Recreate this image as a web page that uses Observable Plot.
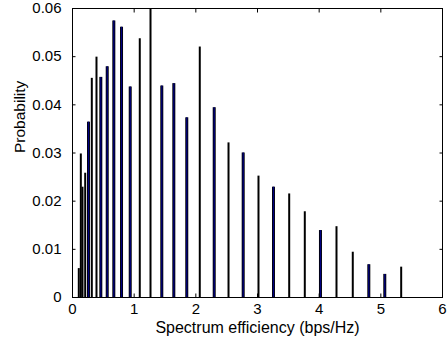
<!DOCTYPE html>
<html><head><meta charset="utf-8">
<script src="https://cdn.jsdelivr.net/npm/d3@7"></script>
<script src="https://cdn.jsdelivr.net/npm/@observablehq/plot@0.6"></script>
<style>body{margin:0;background:#fff} svg{display:block}</style>
</head><body><div id="chart"></div>
<script>
// Series drawn in black
const blackX = [0.102, 0.135, 0.162, 0.206, 0.313, 0.389, 1.091, 1.265, 2.064, 2.530, 3.016, 3.514, 3.767, 4.281, 4.545, 5.330];
const blackY = [0.0060, 0.0298, 0.0229, 0.0258, 0.0455, 0.0499, 0.0537, 0.0700, 0.0520, 0.0321, 0.0252, 0.0215, 0.0178, 0.0147, 0.0094, 0.0063];
// Series drawn in navy
const navyX = [0.259, 0.459, 0.563, 0.670, 0.795, 0.936, 1.448, 1.643, 1.853, 2.298, 2.768, 3.259, 4.021, 4.805, 5.064];
const navyY = [0.0364, 0.0457, 0.0479, 0.0574, 0.0561, 0.0437, 0.0439, 0.0444, 0.0373, 0.0394, 0.0300, 0.0229, 0.0139, 0.0068, 0.0048];

const xTicks = [0, 1, 2, 3, 4, 5, 6];
const yTicks = [0, 0.01, 0.02, 0.03, 0.04, 0.05, 0.06];
const xLabel = "Spectrum efficiency (bps/Hz)";
const yLabel = "Probability";

const black = blackX.map((x, i) => ({x, y: blackY[i]}));
const navy = navyX.map((x, i) => ({x, y: navyY[i]}));
const yFmt = d => d === 0 ? "0" : d.toFixed(2);

const chart = Plot.plot({
  width: 447, height: 343,
  marginLeft: 72, marginRight: 5, marginTop: 8, marginBottom: 46,
  style: {fontFamily: "'Liberation Sans', Arial, sans-serif", fontSize: "15px", background: "white", color: "black"},
  x: {domain: [0, 6]},
  y: {domain: [0, 0.06]},
  marks: [
    Plot.ruleX(black, {x: "x", y1: 0, y2: "y", stroke: "black", strokeWidth: 2, clip: true}),
    Plot.ruleX(navy, {x: "x", y1: 0, y2: "y", stroke: "black", strokeWidth: 3, clip: true}),
    Plot.ruleX(navy, {x: "x", y1: 0, y2: "y", stroke: "#000080", strokeWidth: 1.3, clip: true}),
    Plot.axisX(xTicks, {anchor: "bottom", tickSize: -3.5, tickPadding: 9, label: null}),
    Plot.axisX(xTicks, {anchor: "top", tickSize: -3.5, tickFormat: () => "", label: null}),
    Plot.axisY(yTicks, {anchor: "left", tickSize: -3.5, tickPadding: 14.5, tickFormat: yFmt, label: null}),
    Plot.axisY(yTicks, {anchor: "right", tickSize: -3.5, tickFormat: () => "", label: null}),
    Plot.frame({stroke: "black"}),
    Plot.text([xLabel], {frameAnchor: "bottom", dy: 30, text: d => d, lineAnchor: "middle", fontSize: 16}),
    Plot.text([yLabel], {frameAnchor: "left", dx: -52, rotate: -90, text: d => d, lineAnchor: "middle", fontSize: 15.5})
  ]
});
document.getElementById("chart").appendChild(chart);
</script>
</body></html>
